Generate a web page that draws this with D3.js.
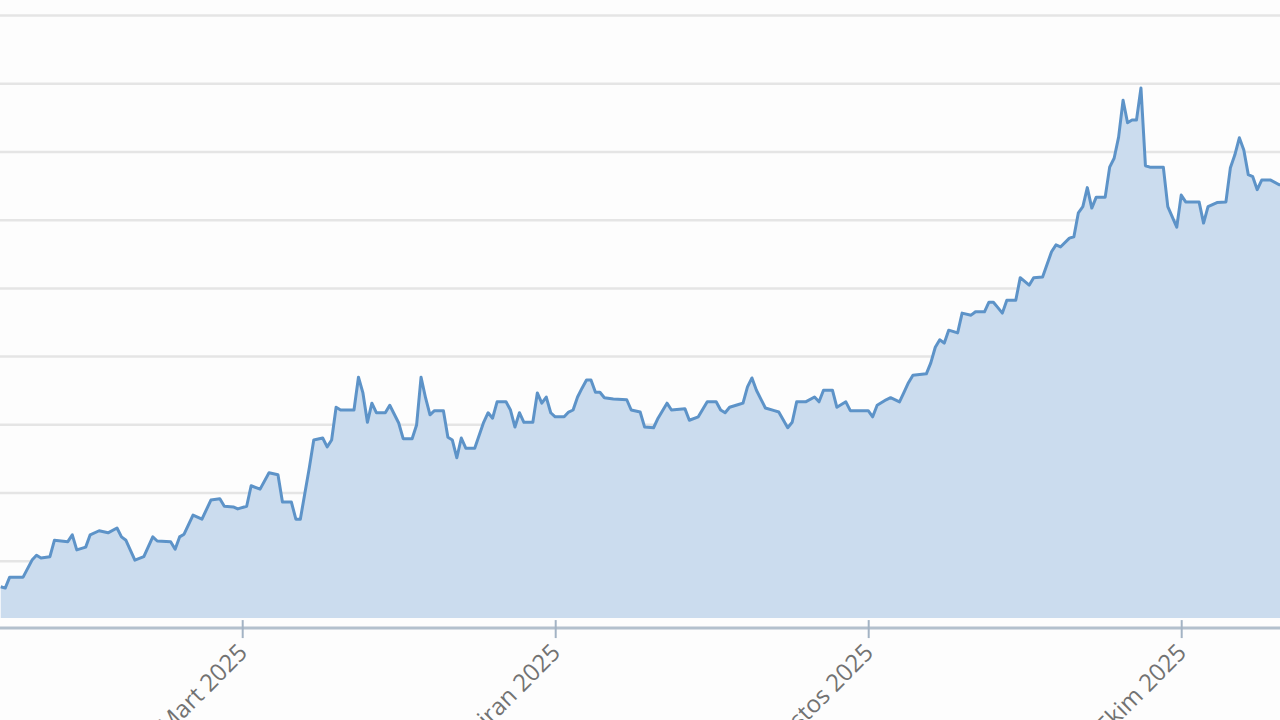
<!DOCTYPE html>
<html>
<head>
<meta charset="utf-8">
<script src="https://cdn.jsdelivr.net/npm/d3@7"></script>
<style>
  html, body { margin: 0; padding: 0; background: #fdfdfd; }
  svg { display: block; }
  .grid line { stroke: #e5e5e5; stroke-width: 2.5; }
  .grid path { display: none; }
  .xaxis path { display: none; }
  .xaxis line { stroke: #a3b3c4; stroke-width: 2; }
  .xaxis text { font-family: "Open Sans", sans-serif; font-size: 24px; fill: #727272; }
</style>
</head>
<body>
<svg id="chart" width="1280" height="720"></svg>
<script>
// series
var dates = [
  "2025-01-29","2025-01-30","2025-01-31","2025-02-03","2025-02-05","2025-02-06","2025-02-07","2025-02-09",
  "2025-02-10","2025-02-13","2025-02-14","2025-02-15","2025-02-17","2025-02-18","2025-02-20","2025-02-22",
  "2025-02-24","2025-02-25","2025-02-26","2025-02-28","2025-03-02","2025-03-04","2025-03-05","2025-03-08",
  "2025-03-09","2025-03-10","2025-03-11","2025-03-13","2025-03-15","2025-03-17","2025-03-19","2025-03-20",
  "2025-03-22","2025-03-23","2025-03-25","2025-03-26","2025-03-28","2025-03-30","2025-04-01","2025-04-02",
  "2025-04-04","2025-04-05","2025-04-06","2025-04-08","2025-04-09","2025-04-11","2025-04-12","2025-04-13",
  "2025-04-14","2025-04-15","2025-04-18","2025-04-19","2025-04-20","2025-04-21","2025-04-22","2025-04-23",
  "2025-04-25","2025-04-26","2025-04-28","2025-04-29","2025-05-01","2025-05-02","2025-05-03","2025-05-04",
  "2025-05-05","2025-05-06","2025-05-08","2025-05-09","2025-05-10","2025-05-11","2025-05-12","2025-05-13",
  "2025-05-15","2025-05-17","2025-05-18","2025-05-19","2025-05-20","2025-05-22","2025-05-23","2025-05-24",
  "2025-05-25","2025-05-26","2025-05-28","2025-05-29","2025-05-30","2025-05-31","2025-06-01","2025-06-02",
  "2025-06-04","2025-06-05","2025-06-06","2025-06-07","2025-06-08","2025-06-09","2025-06-10","2025-06-11",
  "2025-06-12","2025-06-13","2025-06-15","2025-06-18","2025-06-19","2025-06-21","2025-06-22","2025-06-24",
  "2025-06-25","2025-06-27","2025-06-28","2025-07-01","2025-07-02","2025-07-04","2025-07-06","2025-07-08",
  "2025-07-09","2025-07-10","2025-07-11","2025-07-13","2025-07-14","2025-07-15","2025-07-16","2025-07-17",
  "2025-07-19","2025-07-21","2025-07-22","2025-07-24","2025-07-25","2025-07-26","2025-07-28","2025-07-30",
  "2025-07-31","2025-08-01","2025-08-03","2025-08-04","2025-08-06","2025-08-07","2025-08-11","2025-08-12",
  "2025-08-13","2025-08-15","2025-08-16","2025-08-18","2025-08-19","2025-08-20","2025-08-21","2025-08-24",
  "2025-08-25","2025-08-26","2025-08-27","2025-08-28","2025-08-29","2025-08-31","2025-09-01","2025-09-03",
  "2025-09-04","2025-09-06","2025-09-07","2025-09-08","2025-09-09","2025-09-10","2025-09-11","2025-09-13",
  "2025-09-14","2025-09-16","2025-09-17","2025-09-19","2025-09-21","2025-09-22","2025-09-23","2025-09-25",
  "2025-09-26","2025-09-27","2025-09-28","2025-09-29","2025-09-30","2025-10-01","2025-10-03","2025-10-04",
  "2025-10-05","2025-10-06","2025-10-07","2025-10-08","2025-10-09","2025-10-10","2025-10-11","2025-10-12",
  "2025-10-13","2025-10-16","2025-10-17","2025-10-18","2025-10-19","2025-10-20","2025-10-21","2025-10-24",
  "2025-10-25","2025-10-26","2025-10-28","2025-10-30","2025-10-31","2025-11-01","2025-11-02","2025-11-03",
  "2025-11-04","2025-11-05","2025-11-06","2025-11-07","2025-11-09","2025-11-11","2025-11-12"
];
var values = [
  10.62,10.60,10.76,10.76,11.01,11.08,11.04,11.06,
  11.30,11.28,11.38,11.16,11.20,11.38,11.44,11.41,
  11.48,11.35,11.30,11.01,11.06,11.35,11.29,11.28,
  11.17,11.35,11.39,11.67,11.61,11.89,11.91,11.80,
  11.79,11.76,11.80,12.10,12.05,12.29,12.26,11.86,
  11.86,11.61,11.61,12.36,12.77,12.80,12.67,12.77,
  13.25,13.21,13.21,13.69,13.46,13.03,13.31,13.17,
  13.17,13.28,13.02,12.79,12.79,12.99,13.69,13.39,
  13.14,13.20,13.20,12.81,12.77,12.51,12.80,12.65,
  12.65,13.03,13.17,13.09,13.33,13.33,13.21,12.96,
  13.17,13.03,13.03,13.46,13.31,13.40,13.17,13.11,
  13.11,13.18,13.21,13.40,13.53,13.65,13.65,13.47,
  13.47,13.39,13.37,13.36,13.21,13.18,12.96,12.95,
  13.09,13.31,13.21,13.23,13.06,13.11,13.33,13.33,
  13.21,13.17,13.25,13.29,13.31,13.55,13.68,13.50,
  13.24,13.20,13.18,12.95,13.03,13.33,13.33,13.40,
  13.33,13.50,13.50,13.25,13.33,13.20,13.20,13.11,
  13.28,13.36,13.39,13.33,13.47,13.61,13.72,13.74,
  13.90,14.13,14.24,14.19,14.38,14.34,14.63,14.60,
  14.65,14.65,14.79,14.79,14.71,14.63,14.82,14.82,
  15.15,15.04,15.15,15.16,15.53,15.63,15.60,15.73,
  15.75,16.10,16.19,16.47,16.17,16.33,16.33,16.77,
  16.90,17.21,17.75,17.42,17.46,17.46,17.93,16.79,
  16.77,16.77,16.19,16.04,15.89,16.36,16.26,16.26,
  15.95,16.19,16.25,16.26,16.76,16.95,17.20,17.02,
  16.66,16.63,16.44,16.58,16.58,16.51,16.51
];

// axes
var gridValues = [11, 12, 13, 14, 15, 16, 17, 18, 19];
var axisMin = 10.16;   // floor the area is filled down to
var axisBase = 10;     // where the x axis line sits
var tickDates = ["2025-03-24", "2025-06-02", "2025-08-11", "2025-10-20"];
var tickLabels = ["Mart 2025", "Haziran 2025", "Ağustos 2025", "Ekim 2025"];
var viewStart = "2025-01-28T20:00:00Z", viewEnd = "2025-11-11T02:15:00Z";

var width = 1280, height = 720;
var parse = d3.utcParse("%Y-%m-%d");

var data = dates.map(function (d, i) {
    return {date: parse(d), value: values[i]};
});

var svg = d3.select("#chart");

var x = d3.scaleUtc()
    .domain([new Date(viewStart), new Date(viewEnd)])
    .range([0, width]);

var y = d3.scaleLinear()
    .domain([axisBase, 19])
    .range([629, 15]);

// horizontal grid
svg.append("g")
    .attr("class", "grid")
    .call(d3.axisLeft(y)
        .tickValues(gridValues)
        .tickSize(-width)
        .tickFormat(""));

// area + line
var area = d3.area()
    .x(function (d) { return x(d.date); })
    .y0(y(axisMin))
    .y1(function (d) { return y(d.value); });

var line = d3.line()
    .x(function (d) { return x(d.date); })
    .y(function (d) { return y(d.value); });

svg.append("path")
    .datum(data)
    .attr("d", area)
    .style("fill", "#cbdcee");

svg.append("path")
    .datum(data)
    .attr("d", line)
    .style("fill", "none")
    .style("stroke", "#5d93c8")
    .style("stroke-width", 3)
    .style("stroke-linejoin", "round");

// x axis line
svg.append("line")
    .attr("x1", 0).attr("x2", width)
    .attr("y1", y(axisBase) - 1).attr("y2", y(axisBase) - 1)
    .style("stroke", "#b3c0cd")
    .style("stroke-width", 3);

// ticks + rotated labels
var xAxis = svg.append("g")
    .attr("class", "xaxis")
    .attr("transform", "translate(0," + (y(axisMin) + 2) + ")")
    .call(d3.axisBottom(x)
        .tickValues(tickDates.map(parse))
        .tickSize(18)
        .tickSizeOuter(0)
        .tickFormat(function (d, i) { return tickLabels[i]; }));

xAxis.selectAll("text")
    .attr("x", 0)
    .attr("y", 0)
    .attr("dy", null)
    .style("text-anchor", "end")
    .attr("transform", "translate(6,34) rotate(-45)");
</script>
</body>
</html>
